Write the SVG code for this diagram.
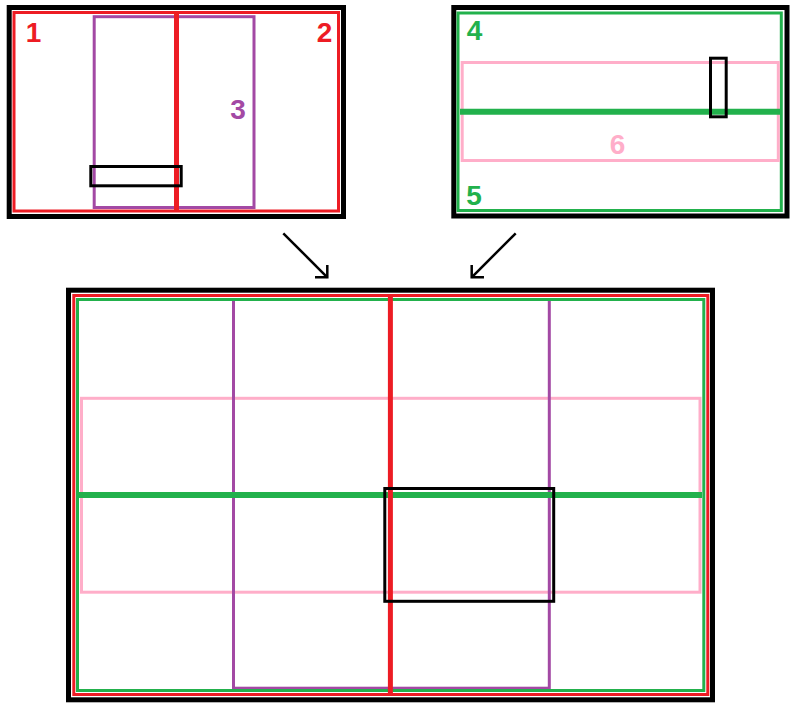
<svg xmlns="http://www.w3.org/2000/svg" width="798" height="710" viewBox="0 0 798 710">
  <style>
    .frame { fill: none; stroke: #000000; stroke-width: 5; }
    .red { fill: none; stroke: #ED1C24; stroke-width: 3; }
    .green { fill: none; stroke: #22B14C; stroke-width: 3; }
    .purple { fill: none; stroke: #A349A4; stroke-width: 3; }
    .pink { fill: none; stroke: #FFAEC9; stroke-width: 3; }
    .box { fill: none; stroke: #000000; stroke-width: 3; }
    .redline { stroke: #ED1C24; stroke-width: 5; }
    .greenline { stroke: #22B14C; stroke-width: 6; }
    .lbl { font-family: "Liberation Sans", Arial, sans-serif; font-weight: bold; font-size: 28px; text-anchor: middle; }
    .arrow { fill: none; stroke: #000000; stroke-width: 2.5; }
  </style>
  <defs>
    <marker id="chev" markerUnits="userSpaceOnUse" orient="auto" markerWidth="20" markerHeight="20" refX="0" refY="0" viewBox="-10 -10 20 20" overflow="visible">
      <path d="M-7.8,-7.8 L0,0 L-7.8,7.8" fill="none" stroke="#000000" stroke-width="2.5" stroke-linecap="square"/>
    </marker>
  </defs>
  <rect width="798" height="710" fill="#ffffff"/>

  <g id="panel-a">
    <rect class="frame" x="9.2" y="7.5" width="334.3" height="209"/>
    <rect class="red" x="14" y="12.5" width="324.5" height="198.5"/>
    <rect class="purple" x="94.2" y="16.7" width="159.8" height="190.8"/>
    <line class="redline" x1="176.5" y1="12" x2="176.5" y2="211"/>
    <rect class="box" x="90.8" y="166.5" width="90.4" height="19.3"/>
    <text class="lbl" x="33.5" y="42" fill="#ED1C24">1</text>
    <text class="lbl" x="324.5" y="42" fill="#ED1C24">2</text>
    <text class="lbl" x="238" y="119" fill="#A349A4">3</text>
  </g>

  <g id="panel-b">
    <rect class="frame" x="453.8" y="7.5" width="333.2" height="208.5"/>
    <rect class="green" x="458" y="13" width="323.3" height="197.5"/>
    <rect class="pink" x="462.2" y="62.5" width="316.1" height="98"/>
    <line class="greenline" x1="460" y1="111.7" x2="781" y2="111.7"/>
    <rect class="box" x="710.5" y="58.2" width="15.7" height="58.6"/>
    <text class="lbl" x="474.5" y="40" fill="#22B14C">4</text>
    <text class="lbl" x="474" y="205" fill="#22B14C">5</text>
    <text class="lbl" x="617.5" y="154" fill="#FFAEC9">6</text>
  </g>

  <g id="connectors">
    <line class="arrow" x1="283.3" y1="233.3" x2="327.3" y2="277.3" marker-end="url(#chev)"/>
    <line class="arrow" x1="515.7" y1="233.3" x2="471.7" y2="277.3" marker-end="url(#chev)"/>
  </g>

  <g id="panel-combined">
    <rect class="frame" x="68.5" y="290.2" width="644" height="409.6"/>
    <rect class="pink" x="81.5" y="398.3" width="618.5" height="193.9"/>
    <rect class="purple" x="233.5" y="299.5" width="315.8" height="388.7"/>
    <rect class="red" x="73.8" y="295.5" width="634" height="399"/>
    <rect class="green" x="77.5" y="299.5" width="626.3" height="391"/>
    <line class="greenline" x1="79" y1="495" x2="702" y2="495"/>
    <line class="redline" x1="390.4" y1="294.5" x2="390.4" y2="694"/>
    <rect class="box" x="384.8" y="488.5" width="168.9" height="112.8"/>
  </g>
</svg>
